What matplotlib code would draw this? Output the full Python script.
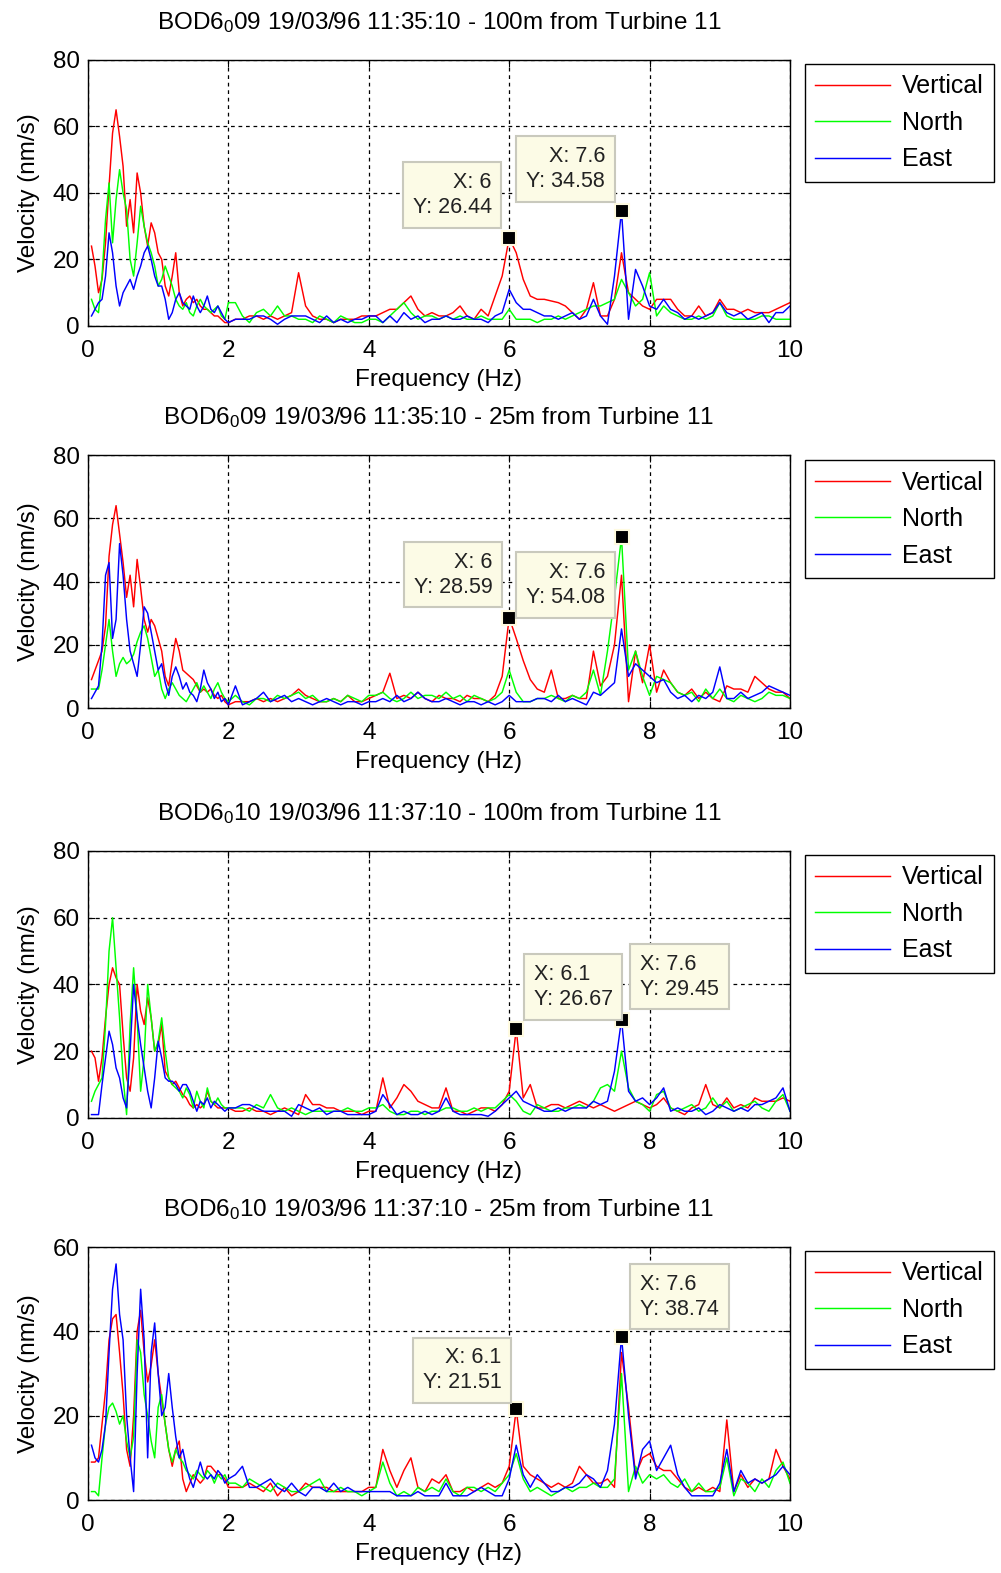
import numpy as np
import matplotlib
matplotlib.use('Agg')
import matplotlib.pyplot as plt

plt.rcParams['font.family'] = ['Liberation Sans', 'DejaVu Sans']
plt.rcParams['mathtext.default'] = 'regular'

# frequency grid: 0.05 Hz steps up to 2 Hz, then 0.1 Hz steps up to 10 Hz
freq = np.concatenate([np.round(np.arange(1, 41) * 0.05, 2),
                       np.round(np.arange(21, 101) * 0.1, 1)])

titles = ['BOD6$_0$09 19/03/96 11:35:10 - 100m from Turbine 11',
          'BOD6$_0$09 19/03/96 11:35:10 - 25m from Turbine 11',
          'BOD6$_0$10 19/03/96 11:37:10 - 100m from Turbine 11',
          'BOD6$_0$10 19/03/96 11:37:10 - 25m from Turbine 11']
labels = ['Vertical', 'North', 'East']
colors = ['#ff0000', '#00ff00', '#0000ff']
xticks = [0, 2, 4, 6, 8, 10]
yticks_80 = [0, 20, 40, 60, 80]
yticks_60 = [0, 20, 40, 60]

# ---- panel 1 : 100m, 11:35:10
vert1 = [24, 18, 10, 14, 25, 42, 58, 65, 57, 48,
         30, 38, 28, 46, 40, 30, 24, 31, 28, 22,
         20, 12, 9, 15, 22, 10, 6, 8, 9, 7,
         8, 6, 5, 5, 4, 3, 3, 2, 1, 1,
         2, 2, 3, 3, 2, 3, 2, 3, 4, 16,
         6, 3, 2, 2, 1, 2, 2, 2, 3, 3,
         3, 4, 5, 5, 7, 9, 5, 3, 4, 3,
         3, 4, 6, 3, 2, 5, 3, 9, 15, 26.44,
         22, 14, 9, 8, 8, 7.5, 7, 6, 4, 2,
         5, 13, 3, 3, 8, 22, 10, 8, 6, 5,
         8, 8, 8, 5, 3, 3, 6, 3, 4, 8,
         5, 5, 4, 5, 4, 4, 4, 5, 6, 7]
north1 = [8, 5, 4, 15, 32, 43, 25, 38, 47, 40,
          35, 20, 15, 25, 36, 30, 25, 22, 18, 12,
          14, 18, 15, 12, 8, 6, 5, 7, 4, 3,
          6, 8, 6, 5, 4, 5, 6, 3, 2, 7,
          7, 3, 1, 4, 5, 3, 6, 3, 3, 2,
          2, 1, 3, 2, 1, 3, 2, 1, 1, 2,
          2, 1, 3, 5, 7, 4, 2, 3, 3, 2,
          3, 2, 3, 2, 2, 3, 2, 2, 2, 5,
          2, 2, 2, 1, 2, 2, 3, 2, 3, 4,
          5, 6, 6, 7, 8, 14, 10, 6, 8, 16,
          3, 6, 4, 3, 2, 2, 3, 2, 3, 7,
          3, 2, 2, 2, 2, 3, 3, 2, 2, 2]
east1 = [3, 5, 7, 8, 15, 28, 22, 12, 6, 10,
         12, 14, 11, 15, 18, 22, 24, 20, 15, 12,
         12, 8, 2, 4, 8, 10, 7, 6, 5, 9,
         6, 4, 6, 9, 5, 4, 6, 4, 2, 1,
         2, 2, 2, 3, 3, 2, 0.5, 2, 3, 3,
         3, 2, 1, 3, 1, 2, 1, 2, 2, 3,
         3, 1, 3, 1, 4, 2, 3, 1, 2, 2,
         3, 2, 2, 3, 2, 2, 1, 3, 4, 11,
         7, 5, 5, 4, 3, 3, 2, 3, 4, 2,
         3, 8, 3, 0.5, 15, 34.58, 2, 17, 12, 6,
         5, 8, 5, 4, 2, 3, 2, 3, 4, 7,
         4, 3, 4, 2, 3, 4, 1, 4, 4, 6]

# ---- panel 2 : 25m, 11:35:10
vert2 = [9, 12, 15, 18, 26, 48, 58, 64, 55, 46,
         35, 42, 32, 47, 38, 28, 24, 28, 26, 22,
         18, 10, 7, 15, 22, 18, 12, 11, 10, 9,
         7, 5, 6, 5, 6, 4, 3, 4, 2, 1,
         2, 2, 2, 3, 2, 3, 2, 3, 4, 6,
         4, 3, 2, 2, 3, 2, 4, 2, 2, 3,
         4, 5, 11, 3, 4, 3, 5, 3, 2, 4,
         3, 3, 2, 4, 3, 3, 2, 4, 10, 28.59,
         22, 15, 9, 6, 5, 12, 3, 3, 4, 3,
         3, 18, 7, 10, 20, 42, 2, 18, 8, 20,
         5, 12, 8, 5, 4, 6, 3, 5, 3, 2,
         7, 6, 6, 5, 10, 8, 6, 5, 5, 3]
north2 = [6, 6, 6, 12, 20, 28, 18, 10, 14, 16,
          14, 15, 17, 21, 24, 26, 22, 16, 10, 12,
          6, 3, 6, 8, 6, 4, 3, 2, 4, 6,
          8, 5, 7, 5, 3, 6, 8, 5, 3, 2,
          4, 2, 1, 3, 3, 2, 4, 3, 4, 5,
          3, 4, 2, 2, 3, 2, 4, 3, 2, 4,
          4, 5, 3, 2, 3, 5, 3, 4, 4, 3,
          5, 3, 4, 2, 4, 3, 2, 3, 5, 12,
          5, 2, 2, 3, 3, 4, 3, 2, 4, 3,
          5, 12, 4, 18, 35, 54.08, 12, 18, 10, 4,
          10, 9, 8, 5, 4, 5, 2, 6, 3, 6,
          3, 2, 4, 3, 2, 3, 5, 4, 4, 3]
east2 = [3, 5, 7, 20, 42, 46, 22, 28, 52, 42,
         28, 18, 14, 10, 20, 32, 30, 24, 18, 12,
         14, 8, 4, 10, 13, 10, 6, 8, 5, 4,
         2, 6, 12, 8, 6, 3, 5, 2, 3, 1,
         7, 1, 2, 3, 5, 2, 3, 4, 2, 3,
         2, 1, 2, 3, 2, 1, 2, 2, 1, 2,
         2, 3, 2, 4, 2, 3, 5, 3, 2, 2,
         3, 2, 1, 2, 2, 1, 2, 1, 2, 4,
         2, 2, 2, 3, 3, 2, 4, 2, 3, 2,
         1, 5, 4, 6, 8, 25, 10, 14, 12, 10,
         8, 9, 5, 3, 4, 2, 4, 3, 5, 13,
         3, 3, 5, 3, 4, 5, 7, 6, 5, 4]

# ---- panel 3 : 100m, 11:37:10
vert3 = [20, 18, 11, 18, 30, 40, 45, 42, 40, 25,
         12, 8, 18, 40, 32, 28, 36, 30, 20, 22,
         28, 14, 12, 10, 11, 9, 7, 6, 4, 3,
         4, 3, 4, 8, 5, 4, 3, 3, 3, 3,
         2, 2, 3, 2, 2, 1, 2, 3, 2, 1,
         7, 4, 4, 3, 3, 2, 2, 2, 1, 2,
         2, 12, 3, 6, 10, 8, 5, 4, 3, 3,
         9, 2, 2, 1, 2, 3, 3, 2, 4, 8,
         26.67, 6, 10, 3, 3, 4, 4, 3, 4, 5,
         4, 3, 4, 3, 2, 3, 4, 5, 4, 3,
         4, 6, 3, 2, 1, 3, 4, 10, 4, 3,
         6, 3, 4, 3, 6, 5, 5, 5, 6, 5]
north3 = [5, 8, 10, 12, 28, 50, 60, 45, 30, 12,
          1, 28, 45, 30, 8, 18, 40, 30, 20, 23,
          30, 20, 12, 10, 9, 8, 6, 9, 7, 3,
          8, 5, 3, 9, 5, 4, 6, 4, 3, 3,
          3, 3, 2, 4, 3, 7, 3, 2, 3, 2,
          1, 2, 2, 2, 2, 2, 3, 2, 2, 3,
          3, 4, 2, 1, 1, 2, 2, 1, 2, 2,
          3, 3, 2, 2, 3, 2, 3, 3, 5, 7,
          5, 2, 1, 4, 3, 2, 2, 3, 3, 4,
          3, 5, 9, 10, 8, 20, 9, 5, 4, 2,
          7, 8, 3, 2, 3, 4, 2, 3, 6, 3,
          5, 2, 3, 4, 5, 3, 2, 5, 7, 2]
east3 = [1, 1, 1, 10, 18, 26, 22, 15, 12, 6,
         3, 20, 40, 30, 22, 15, 8, 3, 12, 23,
         18, 12, 11, 11, 10, 8, 10, 10, 8, 5,
         2, 5, 4, 6, 3, 5, 4, 3, 2, 3,
         3, 4, 4, 3, 2, 2, 2, 2, 0.5, 4,
         3, 2, 3, 1, 2, 2, 1, 1, 1, 1,
         2, 7, 4, 1, 2, 1, 1, 2, 1, 2,
         6, 2, 1, 1, 1, 1, 0.5, 2, 4, 6,
         8, 5, 4, 3, 2, 2, 3, 2, 3, 3,
         3, 5, 4, 5, 14, 29.45, 8, 5, 6, 4,
         6, 9, 2, 3, 2, 2, 3, 1, 2, 4,
         3, 2, 3, 2, 4, 4, 5, 6, 9, 2]

# ---- panel 4 : 25m, 11:37:10
vert4 = [9, 9, 10, 18, 26, 38, 43, 44, 35, 25,
         12, 8, 20, 40, 45, 35, 28, 32, 38, 30,
         24, 18, 12, 8, 12, 14, 5, 2, 4, 6,
         5, 4, 5, 8, 8, 7, 6, 6, 5, 3,
         3, 3, 4, 3, 2, 4, 1, 3, 1, 2,
         4, 3, 3, 3, 2, 2, 2, 2, 2, 3,
         3, 12, 7, 3, 7, 10, 3, 2, 5, 4,
         6, 2, 2, 3, 2, 3, 4, 3, 4, 8,
         21.51, 8, 6, 5, 4, 3, 4, 3, 4, 8,
         6, 4, 4, 5, 3, 35, 22, 6, 10, 11,
         8, 7, 7, 5, 3, 2, 3, 2, 3, 2,
         19, 2, 6, 3, 5, 4, 5, 12, 8, 5]
north4 = [2, 2, 1, 10, 18, 22, 23, 21, 18, 20,
          14, 10, 15, 38, 35, 25, 20, 14, 10, 22,
          25, 18, 12, 9, 12, 10, 9, 7, 6, 5,
          7, 6, 5, 7, 6, 4, 6, 5, 6, 4,
          4, 3, 5, 4, 3, 2, 4, 3, 2, 2,
          3, 4, 5, 2, 2, 3, 2, 2, 1, 2,
          3, 9, 4, 1, 2, 1, 3, 2, 3, 2,
          5, 2, 1, 3, 3, 2, 3, 2, 4, 6,
          11, 5, 2, 3, 2, 1, 2, 3, 2, 3,
          3, 4, 3, 3, 5, 30, 2, 8, 4, 6,
          5, 6, 4, 3, 5, 2, 4, 2, 2, 3,
          10, 1, 5, 4, 2, 5, 3, 7, 9, 4]
east4 = [13, 10, 9, 12, 18, 35, 50, 56, 44, 38,
         20, 10, 2, 30, 50, 38, 10, 35, 42, 30,
         20, 22, 30, 22, 15, 10, 12, 8, 5, 3,
         6, 9, 6, 5, 6, 5, 7, 6, 4, 5,
         6, 8, 3, 3, 4, 5, 3, 2, 4, 2,
         1, 3, 3, 2, 4, 2, 3, 2, 2, 2,
         2, 2, 2, 1, 1, 1, 2, 1, 1, 1,
         4, 1, 1, 1, 2, 3, 2, 1, 1, 5,
         13, 6, 3, 6, 4, 2, 2, 3, 3, 4,
         6, 5, 3, 7, 18, 38.74, 20, 5, 12, 14,
         7, 10, 13, 6, 3, 1, 1, 1, 1, 4,
         12, 2, 7, 4, 5, 4, 5, 6, 8, 6]

# data tips: (frequency, series index, box offset in pixels, text alignment)
tips1 = [(6.0, 0, (-57, 43), 'right'), (7.6, 2, (-56, 42), 'right')]
tips2 = [(6.0, 0, (-56, 43), 'right'), (7.6, 1, (-56, -48), 'right')]
tips3 = [(6.1, 0, (57, 42), 'left'), (7.6, 2, (58, 43), 'left')]
tips4 = [(6.1, 0, (-54, 39), 'right'), (7.6, 2, (58, 40), 'left')]

# axes rectangles (figure fraction)
positions = [[0.0879, 0.7928, 0.7013, 0.1691],
             [0.0879, 0.5499, 0.7013, 0.1608],
             [0.0879, 0.2893, 0.7013, 0.1697],
             [0.0879, 0.0464, 0.7013, 0.1608]]

fs = 17.5

fig = plt.figure(figsize=(10.01, 15.73), dpi=100)


def draw_panel(pos, title, series, ymax, yticks, tips, legend_top):
    ax = fig.add_axes(pos)
    for vals, col, lab in zip(series, colors, labels):
        assert len(vals) == len(freq)
        ax.plot(freq, vals, color=col, lw=1.05, label=lab)
    ax.set_xlim(0, 10)
    ax.set_ylim(0, ymax)
    ax.set_xticks(xticks)
    ax.set_yticks(yticks)
    ax.grid(True, color='black', linestyle=(0, (3, 3)), linewidth=0.9)
    ax.tick_params(direction='in', top=True, right=True, labelsize=fs,
                   length=5, width=0.8, pad=6)
    ax.tick_params(axis='x', pad=10)
    for sp in ax.spines.values():
        sp.set_linewidth(1.0)
    ax.set_title(title, fontsize=fs, pad=22)
    ax.set_xlabel('Frequency (Hz)', fontsize=fs, labelpad=5)
    ax.set_ylabel('Velocity (nm/s)', fontsize=fs, labelpad=9)

    for f, si, off, al in tips:
        i = int(np.argmin(np.abs(freq - f)))
        y = series[si][i]
        ax.plot(freq[i], y, 's', color='black', markersize=10.5,
                markeredgecolor='#fffbe0', markeredgewidth=1.5, zorder=5)
        ax.annotate('X: %g\nY: %.2f' % (freq[i], y), xy=(freq[i], y),
                    xytext=off, textcoords='offset pixels',
                    ha='center', va='center', multialignment=al,
                    fontsize=15.5, linespacing=1.25, color='#222222',
                    bbox=dict(boxstyle='square,pad=0.45', fc='#fcfbe6',
                              ec='#c9c9bd', lw=1.5), zorder=6)

    leg = ax.legend(loc='upper left', bbox_to_anchor=(1.021, legend_top),
                    borderaxespad=0, fontsize=18, handlelength=3.0,
                    labelspacing=0.5, fancybox=False, edgecolor='black',
                    framealpha=1, borderpad=0.42, handletextpad=0.48)
    leg.get_frame().set_linewidth(1.0)
    return ax


draw_panel(positions[0], titles[0], [vert1, north1, east1], 80, yticks_80, tips1, 0.985)
draw_panel(positions[1], titles[1], [vert2, north2, east2], 80, yticks_80, tips2, 0.98)
draw_panel(positions[2], titles[2], [vert3, north3, east3], 80, yticks_80, tips3, 0.985)
draw_panel(positions[3], titles[3], [vert4, north4, east4], 60, yticks_60, tips4, 0.985)

plt.savefig('out.png', dpi=100)
